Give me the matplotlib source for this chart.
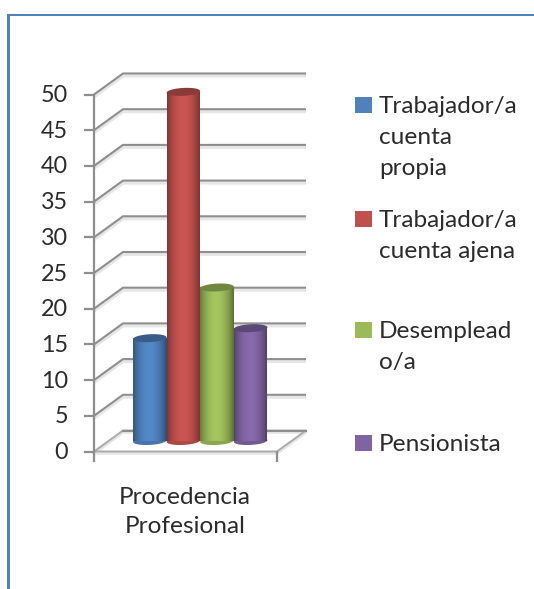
import matplotlib
matplotlib.use('Agg')
import matplotlib.pyplot as plt
import numpy as np
from matplotlib.patches import Rectangle, Polygon, PathPatch
from matplotlib.path import Path

categories = ["Trabajador/a\ncuenta\npropia", "Trabajador/a\ncuenta ajena", "Desemplead\no/a", "Pensionista"]
values = [14.4, 48.9, 21.5, 15.8]
colors = ["#4f81bd", "#c0504d", "#9bbb59", "#8064a2"]
yticks = list(range(0, 55, 5))
xlabel = "Procedencia\nProfesional"

W, H = 534, 589
# axis origin in pixels, one x unit is one bar width, y units are the chart values
x0_px, y0_px = 94, 451.5
ux, uy = 33.6, 7.14
depth_x, depth_y = 29 / ux, 21 / uy
floor_w = 183 / ux
font = "Lato"
txtcol = "#2b2b2b"
gridcol = "#8e8e8e"
shadow = "#e6e6e6"

def px(x):
    return (x - x0_px) / ux

def py(y):
    return (y0_px - y) / uy

def shade(col):
    # dark edges, brighter in the middle, like the office 3d cylinders
    c = np.array(matplotlib.colors.to_rgb(col))
    t = np.linspace(0, 1, 64)
    k = 0.66 + 0.44 * np.sin(np.pi * t) ** 0.8
    k = k - 0.08 * t
    return np.clip(c[None, None, :] * k[None, :, None], 0, 1)

def cap(cx, cy, col, z):
    # slightly tilted ellipse for the ends of a cylinder
    t = np.linspace(0, 2 * np.pi, 60)
    xs = cx + 0.5 * np.cos(t)
    ys = cy + 0.55 * np.sin(t) + 0.12 * np.cos(t)
    ax.add_patch(Polygon(np.column_stack([xs, ys]), closed=True, fc=col, ec="none", zorder=z))

fig = plt.figure(figsize=(W / 100, H / 100), dpi=100)
ax = fig.add_axes([0, 0, 1, 1])
ax.axis("off")

# blue frame of the page
ax.add_patch(Rectangle((px(7), py(589)), 3 / ux, 575 / uy, fc="#4f81bd", ec="none"))
ax.add_patch(Rectangle((px(7), py(15.5)), 527 / ux, 1.6 / uy, fc="#4f81bd", ec="none"))

# gridlines: slanted side wall + horizontal back wall
for v in yticks[1:]:
    xs = [0, depth_x, depth_x + floor_w]
    ys = [v, v + depth_y, v + depth_y]
    ax.plot(xs, [y - 0.35 for y in ys], color=shadow, lw=2.2, zorder=1, solid_capstyle="butt")
    ax.plot(xs, ys, color=gridcol, lw=1.5, zorder=2, solid_capstyle="butt")

# floor
fx = [0, floor_w, floor_w + depth_x, depth_x, 0]
fy = [0, 0, depth_y, depth_y, 0]
ax.plot(fx, [y - 0.25 for y in fy], color=shadow, lw=2.2, zorder=1)
ax.plot(fx, fy, color="#ababab", lw=1.4, zorder=2)
ax.plot([depth_x, depth_x + floor_w], [depth_y, depth_y], color=gridcol, lw=1.5, zorder=2)

# y axis and ticks
ax.plot([0, 0], [-1.4, 50], color=gridcol, lw=1.6, zorder=3)
ax.plot([floor_w, floor_w], [-1.4, 0], color=gridcol, lw=1.6, zorder=3)
for v in yticks:
    ax.plot([-9 / ux, 0], [v, v], color=gridcol, lw=1.6, zorder=3)
    ax.text(-26 / ux, v - 0.15, str(v), ha="right", va="center", fontsize=16.8, family=font, color=txtcol)

# cylinders
base = 10.5 / uy
start = px(133)
for i, (val, col) in enumerate(zip(values, colors)):
    z = 5 + i
    left = start + i
    right = left + 1
    rgb = np.array(matplotlib.colors.to_rgb(col))
    shape = PathPatch(Path([(left, base), (left, base + val), (right, base + val), (right, base), (left, base)]),
                      transform=ax.transData, fc="none", ec="none")
    ax.add_patch(shape)
    cap(left + 0.5, base, tuple(rgb * 0.9), z)
    im = ax.imshow(shade(col), extent=(left, right, base, base + val), aspect="auto", zorder=z + 0.1,
                   interpolation="bilinear")
    im.set_clip_path(shape)
    cap(left + 0.5, base + val, tuple(rgb * 0.72), z + 0.2)

# category label
ax.text(px(185), py(512), xlabel, ha="center", va="center", fontsize=17.6, family=font, color=txtcol,
        linespacing=1.45)

# legend
swatch_y = [105, 219, 330, 443]
for name, col, sy in zip(categories, colors, swatch_y):
    ax.add_patch(Rectangle((px(355), py(sy + 8)), 17 / ux, 16 / uy, fc=col, ec="none", zorder=5))
    ax.text(px(379), py(sy - 9), name, ha="left", va="top", fontsize=17.6, family=font, color=txtcol,
            linespacing=1.58)

ax.set_xlim(px(0), px(W))
ax.set_ylim(py(H), py(0))
fig.savefig("out.png", dpi=100)
